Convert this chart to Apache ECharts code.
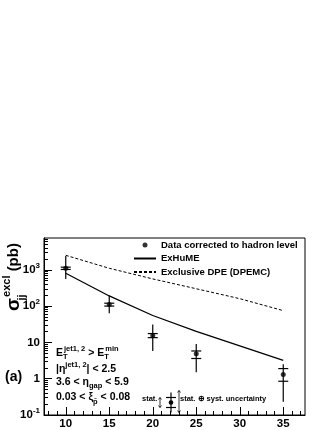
<!DOCTYPE html>
<html>
<head>
<meta charset="utf-8">
<script src="https://cdn.jsdelivr.net/npm/echarts@6/dist/echarts.min.js"></script>
<style>
html,body{margin:0;padding:0;background:#fff;}
#main{width:332px;height:430px;}
</style>
</head>
<body>
<div id="main"></div>
<script>
// measured points
var etBins = [10, 15, 20, 25, 35];
var sigma = [1100, 110, 15.5, 4.9, 1.3];
var statHi = [1180, 120, 17.5, 5.8, 1.9];
var statLo = [1020, 100, 13.5, 3.6, 0.85];
var totHi = [2400, 195, 31, 9, 2.5];
var totLo = [560, 63, 5.8, 1.5, 0.23];

// model curves
var modelEt = [10, 15, 20, 25, 30, 35];
var exhume = [800, 190, 55, 20, 8, 3.2];
var dpemc = [2500, 1100, 560, 300, 160, 75];

// ticks
var xMajor = [10, 15, 20, 25, 30, 35];
var xMinor = [8, 9, 11, 12, 13, 14, 16, 17, 18, 19, 21, 22, 23, 24, 26, 27, 28, 29, 31, 32, 33, 34, 36, 37];
var yMajor = [0.1, 1, 10, 100, 1000];
var yMinor = [0.2, 0.3, 0.4, 0.5, 0.6, 0.7, 0.8, 0.9, 2, 3, 4, 5, 6, 7, 8, 9,
  20, 30, 40, 50, 60, 70, 80, 90, 200, 300, 400, 500, 600, 700, 800, 900,
  2000, 3000, 4000, 5000, 6000, 7000];

var font = "'Liberation Sans', Arial, sans-serif";

var myChart = echarts.init(document.getElementById('main'));

var pts = [], bars = [], exLine = [], dpLine = [];
etBins.forEach(function (x, i) {
  pts.push([x, sigma[i]]);
  bars.push([x, sigma[i], totHi[i], totLo[i], statHi[i], statLo[i]]);
});
modelEt.forEach(function (x, i) {
  exLine.push([x, exhume[i]]);
  dpLine.push([x, dpemc[i]]);
});

function yLabel(v) {
  var e = Math.round(Math.log10(v));
  if (e === 0) return '{b|1}';
  if (e === 1) return '{b|10}';
  return '{b|10}{s|' + e + '}';
}

var sup = {fontSize: 7.5, fontWeight: 'bold', fontFamily: font, lineHeight: 8, verticalAlign: 'top', color: '#000'};
var sub = {fontSize: 7.5, fontWeight: 'bold', fontFamily: font, lineHeight: 8, verticalAlign: 'bottom', color: '#000'};
var subStack = {fontSize: 7.5, fontWeight: 'bold', fontFamily: font, lineHeight: 8, verticalAlign: 'bottom', width: 1, color: '#000'};
var main = {fontSize: 10.5, fontWeight: 'bold', fontFamily: font, lineHeight: 16, color: '#000'};
var cutRich = {m: main, p: sup, b: sub, k: subStack};

function cutText(y, txt) {
  return {
    type: 'text', left: 56, top: y - 8,
    style: {text: txt, rich: cutRich, fill: '#000'}
  };
}

var option = {
  animation: false,
  backgroundColor: '#fff',
  grid: {
    left: 44, top: 238, width: 261, height: 178,
    show: true, borderColor: '#000', borderWidth: 1, backgroundColor: 'transparent'
  },
  legend: {
    orient: 'vertical', left: 133, top: 239, padding: 0,
    itemWidth: 22, itemHeight: 5, itemGap: 1.5,
    textStyle: {fontFamily: font, fontWeight: 'bold', fontSize: 9.5, lineHeight: 12, color: '#000'},
    data: [
      {name: 'Data corrected to hadron level', icon: 'circle'},
      {name: 'ExHuME', itemStyle: {opacity: 0}},
      {name: 'Exclusive DPE (DPEMC)', itemStyle: {opacity: 0}}
    ]
  },
  xAxis: [
    {
      type: 'value', min: 7.5, max: 37.5, position: 'bottom',
      axisLine: {show: true, lineStyle: {color: '#000', width: 1}},
      axisTick: {show: true, inside: true, length: 8, customValues: xMajor, lineStyle: {color: '#000'}},
      axisLabel: {customValues: xMajor, margin: 3, color: '#000', fontFamily: font, fontWeight: 'bold', fontSize: 11.5},
      splitLine: {show: false}
    },
    {
      type: 'value', min: 7.5, max: 37.5, position: 'bottom',
      axisLine: {show: false},
      axisTick: {show: true, inside: true, length: 4, customValues: xMinor, lineStyle: {color: '#000'}},
      axisLabel: {show: false},
      splitLine: {show: false}
    }
  ],
  yAxis: [
    {
      type: 'log', min: 0.1, max: 7500, position: 'left',
      axisLine: {show: true, lineStyle: {color: '#000', width: 1}},
      axisTick: {show: true, inside: true, length: 8, customValues: yMajor, lineStyle: {color: '#000'}},
      axisLabel: {
        customValues: yMajor, margin: 4, formatter: yLabel,
        rich: {
          b: {fontFamily: font, fontWeight: 'bold', fontSize: 11.5, lineHeight: 16, color: '#000'},
          s: {fontFamily: font, fontWeight: 'bold', fontSize: 8, lineHeight: 9, verticalAlign: 'top', color: '#000'}
        }
      },
      splitLine: {show: false}
    },
    {
      type: 'log', min: 0.1, max: 7500, position: 'left',
      axisLine: {show: false},
      axisTick: {show: true, inside: true, length: 4, customValues: yMinor, lineStyle: {color: '#000'}},
      axisLabel: {show: false},
      splitLine: {show: false}
    }
  ],
  series: [
    {
      name: 'ExHuME', type: 'line', data: exLine, symbol: 'none',
      lineStyle: {color: '#000', width: 1.3}, itemStyle: {color: '#000'}
    },
    {
      name: 'Exclusive DPE (DPEMC)', type: 'line', data: dpLine, symbol: 'none',
      lineStyle: {color: '#000', width: 1, type: [3, 2]}, itemStyle: {color: '#000'}
    },
    {
      type: 'custom', data: bars,
      renderItem: function (params, api) {
        var x = api.value(0);
        var c = api.coord([x, api.value(1)]);
        var th = api.coord([x, api.value(2)]);
        var tl = api.coord([x, api.value(3)]);
        var sh = api.coord([x, api.value(4)]);
        var sl = api.coord([x, api.value(5)]);
        var st = {stroke: '#000', lineWidth: 1.2};
        return {
          type: 'group',
          children: [
            {type: 'line', shape: {x1: c[0], y1: th[1], x2: c[0], y2: tl[1]}, style: st},
            {type: 'line', shape: {x1: c[0] - 5, y1: sh[1], x2: c[0] + 5, y2: sh[1]}, style: st},
            {type: 'line', shape: {x1: c[0] - 5, y1: sl[1], x2: c[0] + 5, y2: sl[1]}, style: st}
          ]
        };
      }
    },
    {
      name: 'Data corrected to hadron level', type: 'scatter', data: pts,
      symbol: 'circle', symbolSize: 5, itemStyle: {color: '#000'}
    }
  ],
  graphic: [
    {
      type: 'text', x: 14, y: 277, rotation: Math.PI / 2,
      style: {
        text: '{s|σ}{k|jj}{e|excl}{p| (pb)}', align: 'center', verticalAlign: 'middle',
        rich: {
          s: {fontFamily: font, fontWeight: 'bold', fontSize: 19, lineHeight: 26, color: '#000'},
          k: {fontFamily: font, fontWeight: 'bold', fontSize: 11, lineHeight: 12, verticalAlign: 'bottom', width: 1, color: '#000'},
          e: {fontFamily: font, fontWeight: 'bold', fontSize: 11, lineHeight: 12, verticalAlign: 'top', color: '#000'},
          p: {fontFamily: font, fontWeight: 'bold', fontSize: 15, lineHeight: 26, color: '#000'}
        }
      }
    },
    {
      type: 'text', left: 5, top: 370,
      style: {text: '(a)', fill: '#000', font: 'bold 14px ' + font}
    },
    cutText(353, '{m|E}{k|T}{p|jet1, 2}{m| > E}{k|T}{p|min}'),
    cutText(369, '{m||η}{p|jet1, 2}{m|| < 2.5}'),
    cutText(384.5, '{m|3.6 < η}{b|gap}{m| < 5.9}'),
    cutText(400, '{m|0.03 < ξ}{b|p\u0304}{m| < 0.08}'),
    {
      type: 'text', left: 142, top: 395,
      style: {text: 'stat.', fill: '#000', font: 'bold 7.5px ' + font}
    },
    {
      type: 'text', left: 180, top: 395,
      style: {text: 'stat. ⊕ syst. uncertainty', fill: '#000', font: 'bold 7.5px ' + font}
    },
    {
      type: 'group', left: 156, top: 388,
      children: [
        {type: 'line', shape: {x1: 2, y1: 7, x2: 2, y2: 17}, style: {stroke: '#000', lineWidth: 0.8}},
        {type: 'polyline', shape: {points: [[0.5, 9], [2, 7], [3.5, 9]]}, style: {stroke: '#000', lineWidth: 0.8, fill: null}},
        {type: 'polyline', shape: {points: [[0.5, 15], [2, 17], [3.5, 15]]}, style: {stroke: '#000', lineWidth: 0.8, fill: null}},
        {type: 'line', shape: {x1: 13, y1: 2, x2: 13, y2: 22}, style: {stroke: '#000', lineWidth: 1.2}},
        {type: 'line', shape: {x1: 8, y1: 7, x2: 18, y2: 7}, style: {stroke: '#000', lineWidth: 1.2}},
        {type: 'line', shape: {x1: 8, y1: 17, x2: 18, y2: 17}, style: {stroke: '#000', lineWidth: 1.2}},
        {type: 'circle', shape: {cx: 13, cy: 12, r: 2.3}, style: {fill: '#000'}},
        {type: 'line', shape: {x1: 21, y1: 0, x2: 21, y2: 22}, style: {stroke: '#000', lineWidth: 0.8}},
        {type: 'polyline', shape: {points: [[19.5, 2], [21, 0], [22.5, 2]]}, style: {stroke: '#000', lineWidth: 0.8, fill: null}},
        {type: 'polyline', shape: {points: [[19.5, 20], [21, 22], [22.5, 20]]}, style: {stroke: '#000', lineWidth: 0.8, fill: null}}
      ]
    }
  ]
};
myChart.setOption(option);
</script>
</body>
</html>
